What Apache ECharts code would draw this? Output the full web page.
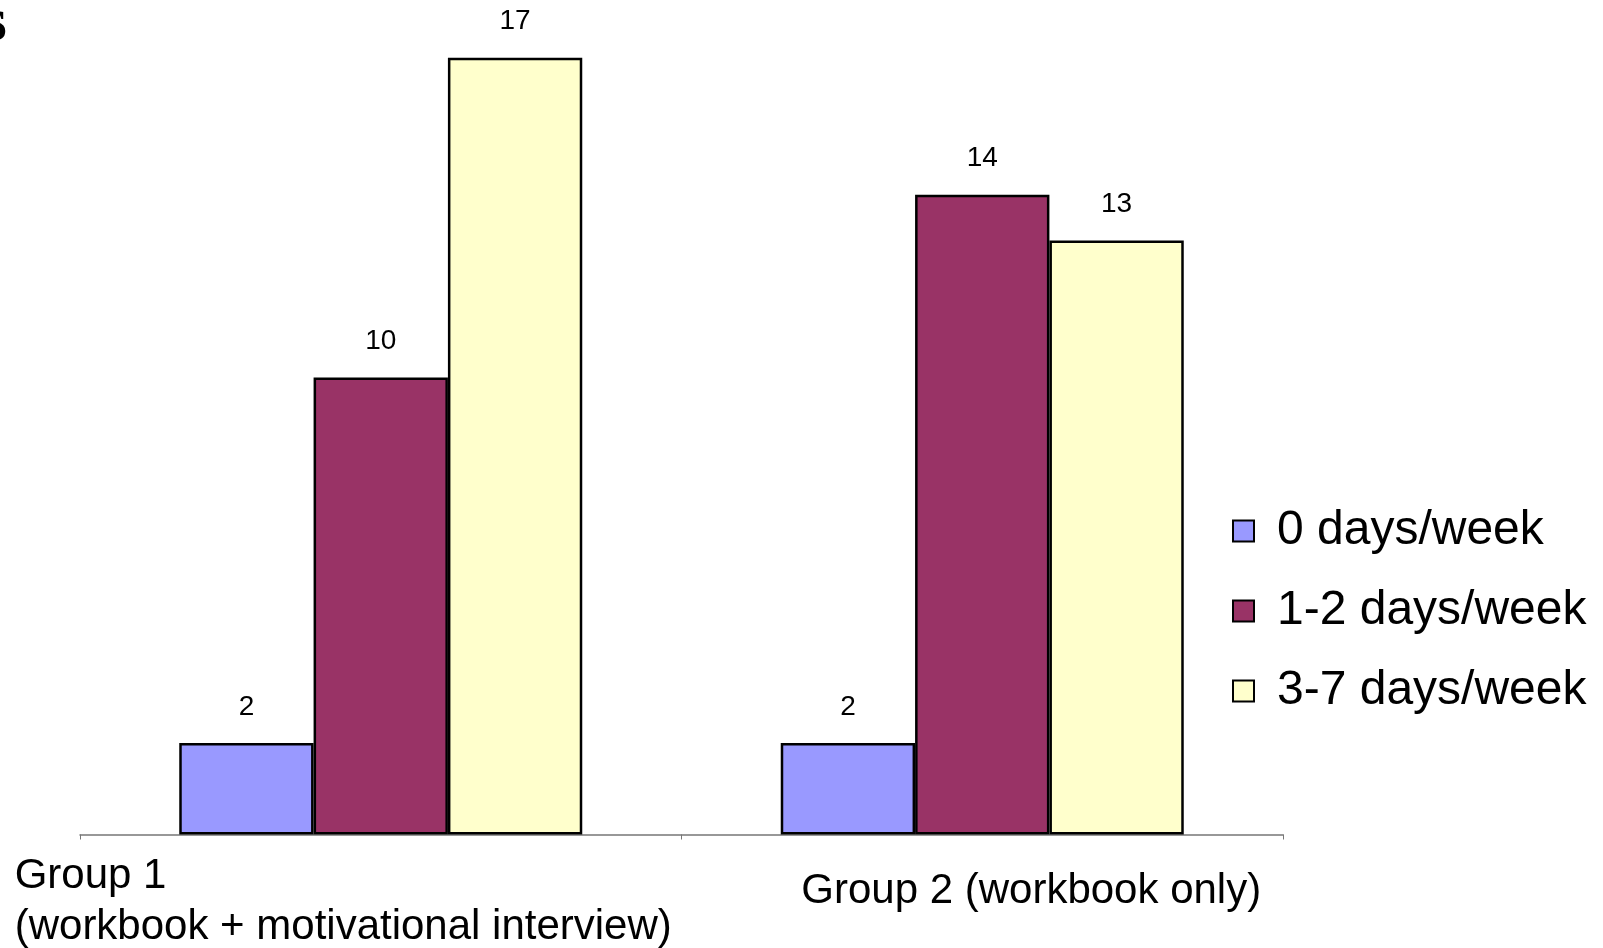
<!DOCTYPE html>
<html>
<head>
<meta charset="utf-8">
<script src="https://cdn.jsdelivr.net/npm/echarts@6/dist/echarts.min.js"></script>
<style>
  html, body { margin: 0; padding: 0; background: #fff; }
  #chart { width: 1603px; height: 948px; }
</style>
</head>
<body>
<div id="chart"></div>
<script>
var categories = ['Group 1\n(workbook + motivational interview)', 'Group 2 (workbook only)'];
var seriesNames = ['0 days/week', '1-2 days/week', '3-7 days/week'];
var zeroDays = [2, 2];
var oneTwoDays = [10, 14];
var threeSevenDays = [17, 13];
var colors = ['#9999FF', '#993366', '#FFFFCC'];

var myChart = echarts.init(document.getElementById('chart'));

function makeSeries(name, values, color) {
    return {
        name: name,
        type: 'bar',
        data: values,
        barGap: 0,
        barCategoryGap: '33%',
        itemStyle: {
            color: color,
            borderColor: '#000',
            borderWidth: 2.5
        },
        label: {
            show: true,
            position: 'top',
            distance: 22,
            color: '#000',
            fontFamily: 'Liberation Sans',
            fontSize: 28
        }
    };
}

var option = {
    backgroundColor: '#fff',
    animation: false,
    grid: {
        left: 80,
        right: 320,
        top: 12,
        bottom: 112
    },
    graphic: [{
        type: 'text',
        left: -17,
        top: -6,
        style: {
            text: 's',
            font: 'bold 61px "Liberation Serif"',
            fill: '#000'
        }
    }],
    legend: {
        orient: 'vertical',
        left: 1227,
        top: 502,
        itemWidth: 21,
        itemHeight: 21,
        itemGap: 32,
        icon: 'rect',
        itemStyle: {
            borderColor: '#000',
            borderWidth: 2
        },
        formatter: function (name) {
            return '{t|' + name + '}';
        },
        textStyle: {
            rich: {
                t: {
                    fontFamily: 'Liberation Sans',
                    fontSize: 48,
                    lineHeight: 56,
                    color: '#000',
                    padding: [0, 0, 0, 18]
                }
            }
        }
    },
    xAxis: {
        type: 'category',
        data: categories,
        axisLine: { lineStyle: { color: '#777', width: 1.5 } },
        axisTick: { show: true, length: 5, lineStyle: { color: '#777' } },
        axisLabel: {
            margin: 16,
            interval: 0,
            formatter: function (value, idx) {
                if (idx === 0) {
                    return value.split('\n').map(function (s) { return '{a|' + s + '}'; }).join('\n');
                }
                return '{b|' + value + '}';
            },
            rich: {
                a: {
                    fontFamily: 'Liberation Sans',
                    fontSize: 42,
                    lineHeight: 51,
                    color: '#000',
                    align: 'left',
                    padding: [0, 75, 0, 0]
                },
                b: {
                    fontFamily: 'Liberation Sans',
                    fontSize: 42,
                    lineHeight: 51,
                    color: '#000',
                    padding: [30, 0, 0, 98]
                }
            }
        }
    },
    yAxis: {
        type: 'value',
        min: 0,
        max: 18,
        show: false,
        splitLine: { show: false }
    },
    series: [
        makeSeries(seriesNames[0], zeroDays, colors[0]),
        makeSeries(seriesNames[1], oneTwoDays, colors[1]),
        makeSeries(seriesNames[2], threeSevenDays, colors[2])
    ]
};
myChart.setOption(option);
</script>
</body>
</html>
